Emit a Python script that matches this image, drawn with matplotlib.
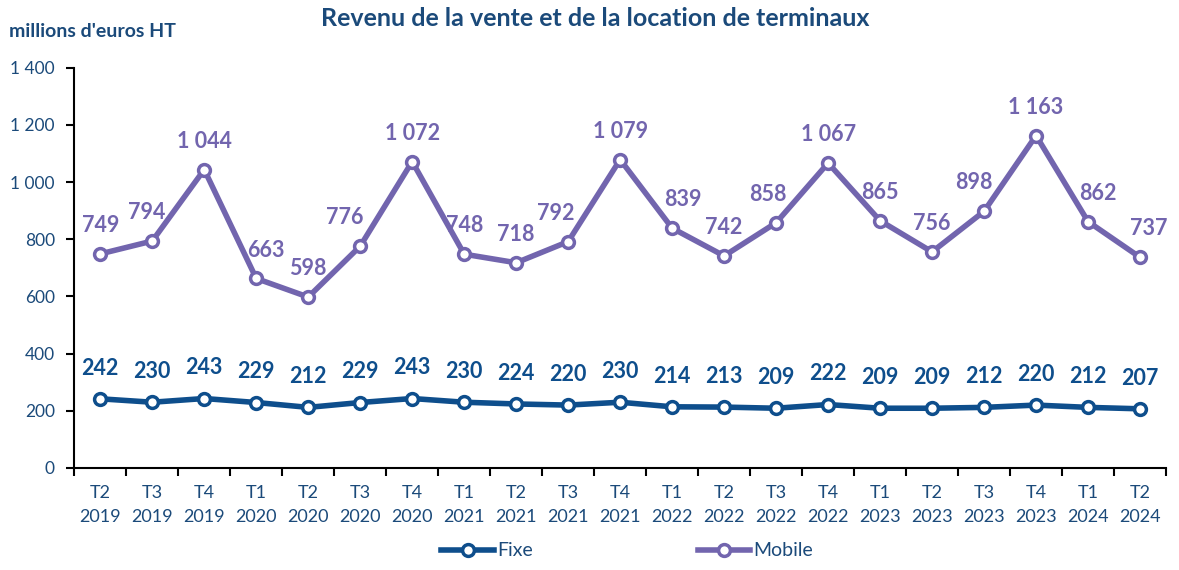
import matplotlib.pyplot as plt
import numpy as np

plt.rcParams['font.family'] = ['Lato', 'DejaVu Sans']

quarters = ['T2', 'T3', 'T4', 'T1', 'T2', 'T3', 'T4', 'T1', 'T2', 'T3', 'T4',
            'T1', 'T2', 'T3', 'T4', 'T1', 'T2', 'T3', 'T4', 'T1', 'T2']
years = ['2019', '2019', '2019', '2020', '2020', '2020', '2020', '2021', '2021', '2021', '2021',
         '2022', '2022', '2022', '2022', '2023', '2023', '2023', '2023', '2024', '2024']
fixe = [242, 230, 243, 229, 212, 229, 243, 230, 224, 220, 230,
        214, 213, 209, 222, 209, 209, 212, 220, 212, 207]
mobile = [749, 794, 1044, 663, 598, 776, 1072, 748, 718, 792, 1079,
          839, 742, 858, 1067, 865, 756, 898, 1163, 862, 737]

# sideways nudges (points) so mobile labels stay clear of the line
mobile_nudge = {1: -4, 3: 7, 5: -11, 9: -9, 11: 8, 13: -6, 17: -7, 19: 7, 20: 6}

c_fixe = '#0E4E8C'
c_mobile = '#7265AE'
c_text = '#1B4A7A'


def fmt(v):
    return f'{v:,}'.replace(',', ' ')


fig = plt.figure(figsize=(11.79, 5.70), dpi=100)
ax = fig.add_axes([0.063, 0.179, 0.926, 0.702])

x = np.arange(len(quarters))
ax.plot(x, fixe, color=c_fixe, lw=4, marker='o', ms=8.5, mfc='white',
        mec=c_fixe, mew=2.5, label='Fixe', zorder=3)
ax.plot(x, mobile, color=c_mobile, lw=4, marker='o', ms=8.5, mfc='white',
        mec=c_mobile, mew=2.5, label='Mobile', zorder=3)

for xi, v in zip(x, fixe):
    ax.annotate(fmt(v), (xi, v), xytext=(0, 22), textcoords='offset points',
                ha='center', va='center', fontsize=15.5, fontweight='bold', color=c_fixe)
for i, (xi, v) in enumerate(zip(x, mobile)):
    ax.annotate(fmt(v), (xi, v), xytext=(mobile_nudge.get(i, 0), 20.5),
                textcoords='offset points', ha='center', va='center',
                fontsize=15.5, fontweight='bold', color=c_mobile)

ax.set_xlim(-0.5, len(quarters) - 0.5)
ax.set_ylim(0, 1400)
ax.set_yticks(np.arange(0, 1401, 200))
ax.set_yticklabels([fmt(v) for v in range(0, 1401, 200)])

ax.set_xticks(x)
ax.set_xticklabels([f'{q}\n{y}' for q, y in zip(quarters, years)], linespacing=1.65)
ax.tick_params(axis='x', length=0, pad=12, labelsize=13, labelcolor=c_text)
ax.set_xticks(np.arange(-0.5, len(quarters)), minor=True)
ax.tick_params(axis='x', which='minor', length=6, width=1.5, direction='out')
ax.tick_params(axis='y', length=6, width=1.5, labelsize=12.5, labelcolor=c_text, pad=8)

for s in ['top', 'right']:
    ax.spines[s].set_visible(False)
for s in ['left', 'bottom']:
    ax.spines[s].set_linewidth(1.5)

fig.text(0.505, 0.968, 'Revenu de la vente et de la location de terminaux', ha='center',
         va='center', fontsize=18, fontweight='bold', color=c_text)
fig.text(0.008, 0.945, "millions d'euros HT", ha='left', va='center',
         fontsize=14, fontweight='bold', color=c_text)

leg = fig.legend(loc='lower center', bbox_to_anchor=(0.532, -0.012), ncol=2, frameon=False,
                 fontsize=14, handlelength=2.7, handletextpad=0.15, columnspacing=8.5)
for t in leg.get_texts():
    t.set_color(c_text)

fig.savefig('out.png', dpi=100)
